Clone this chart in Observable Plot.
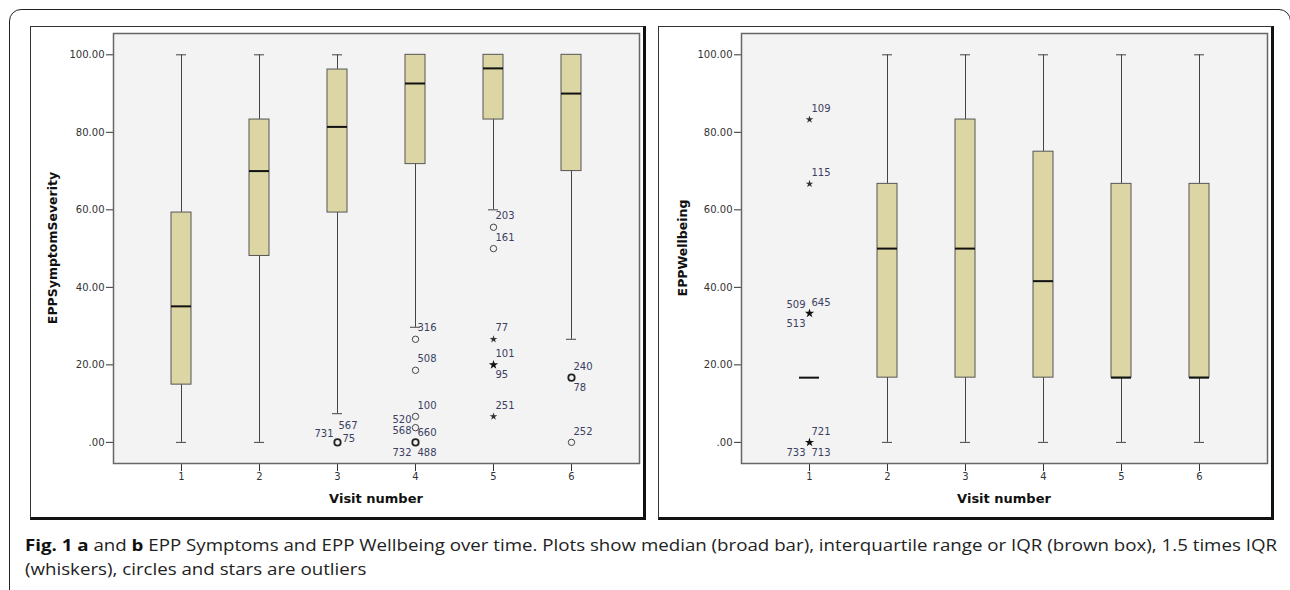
<!DOCTYPE html>
<html><head><meta charset="utf-8">
<script src="https://cdn.jsdelivr.net/npm/d3@7"></script>
<script src="https://cdn.jsdelivr.net/npm/@observablehq/plot@0.6"></script>
<style>
html,body{margin:0;padding:0;background:#fff;}
body{width:1290px;height:590px;position:relative;overflow:hidden;font-family:"DejaVu Sans",sans-serif;}
#frame{position:absolute;left:9px;top:9px;width:1282px;height:640px;box-sizing:border-box;border:1.5px solid #222;border-radius:12px;}
.panel{position:absolute;top:26px;height:494px;box-sizing:border-box;border-left:1.5px solid #333;border-top:1.5px solid #333;border-right:3px solid #111;border-bottom:3px solid #111;background:#fff;}
.chart{position:absolute;top:26px;}
.xt{position:absolute;font-weight:bold;font-size:13px;color:#111;transform:translate(-50%,-50%);white-space:nowrap;}
.yt{position:absolute;font-weight:bold;font-size:12.5px;color:#111;transform:translate(-50%,-50%) rotate(-90deg);white-space:nowrap;}
#cap{position:absolute;left:25px;top:533px;font-family:"Open Sans",sans-serif;font-size:15.5px;color:#222;line-height:24px;transform-origin:0 0;white-space:nowrap;}
#cap .l1{display:inline-block;}
#cap b{font-weight:bold;color:#111;}
</style>
</head><body>
<div id="frame"></div>
<div class="panel" style="left:30px;width:616px;"></div>
<div class="panel" style="left:658px;width:616px;"></div>
<div id="ca" class="chart" style="left:30px;"></div>
<div id="cb" class="chart" style="left:658px;"></div>
<div class="yt" style="left:52px;top:248px;">EPPSymptomSeverity</div>
<div class="yt" style="left:682px;top:248px;">EPPWellbeing</div>
<div class="xt" style="left:376px;top:498px;">Visit number</div>
<div class="xt" style="left:1004px;top:498px;">Visit number</div>
<div id="cap">
<span class="l1" id="l1"><b>Fig. 1 a</b> and <b>b</b> EPP Symptoms and EPP Wellbeing over time. Plots show median (broad bar), interquartile range or IQR (brown box), 1.5 times IQR</span>
<div>(whiskers), circles and stars are outliers</div>
</div>
<script>
// ---------- data ----------
const visits = [1, 2, 3, 4, 5, 6];
const yTicks = [0, 20, 40, 60, 80, 100];

// Panel a: EPPSymptomSeverity
const sevLow  = [0, 0, 7.4, 29.7, 60, 26.6];
const sevQ1   = [14.9, 48.1, 59.3, 71.8, 83.3, 70];
const sevMed  = [35.1, 70, 81.4, 92.6, 96.5, 90];
const sevQ3   = [59.3, 83.3, 96.2, 100, 100, 100];
const sevHigh = [100, 100, 100, 100, 100, 100];
const sevCircleVisit = [3, 4, 4, 4, 4, 4, 5, 5, 6, 6];
const sevCircleValue = [0, 26.6, 18.6, 6.7, 3.8, 0, 55.5, 50, 16.7, 0];
const sevCircleBold  = [true, false, false, false, false, true, false, false, true, false];
const sevStarVisit = [5, 5, 5];
const sevStarValue = [26.6, 20, 6.7];
const sevStarBold  = [false, true, false];
const sevLabelText  = ["731","567","75","316","508","100","520","568","660","732","488","203","161","77","101","95","251","240","78","252"];
const sevLabelVisit = [3,3,3,4,4,4,4,4,4,4,4,5,5,5,5,5,5,6,6,6];
const sevLabelValue = [0,0,0,26.6,18.6,6.7,6.7,3.8,3.8,0,0,55.5,50,26.6,20,20,6.7,16.7,16.7,0];
const sevLabelSide  = ["leftAbove","aboveHigh","right","above","above","above","left","left","rightLow","leftBelow","rightBelow","above","above","above","above","rightBelow","above","above","rightBelow","above"];

// Panel b: EPPWellbeing
const wbLow  = [null, 0, 0, 0, 0, 0];
const wbQ1   = [16.7, 16.7, 16.7, 16.7, 16.7, 16.7];
const wbMed  = [16.7, 50, 50, 41.6, 16.7, 16.7];
const wbQ3   = [16.7, 66.7, 83.3, 75, 66.7, 66.7];
const wbHigh = [null, 100, 100, 100, 100, 100];
const wbCircleVisit = [];
const wbCircleValue = [];
const wbCircleBold  = [];
const wbStarVisit = [1, 1, 1, 1];
const wbStarValue = [83.3, 66.7, 33.3, 0];
const wbStarBold  = [false, false, true, true];
const wbLabelText  = ["109","115","509","645","513","721","733","713"];
const wbLabelVisit = [1,1,1,1,1,1,1,1];
const wbLabelValue = [83.3,66.7,33.3,33.3,33.3,0,0,0];
const wbLabelSide  = ["above","above","leftAbove","above","leftBelow","above","leftBelow","rightBelow"];

// ---------- drawing ----------
const sides = {
  above:      {textAnchor: "start", dx: 2,  dy: -11},
  aboveHigh:  {textAnchor: "start", dx: 1,  dy: -17},
  right:      {textAnchor: "start", dx: 5,  dy: -4},
  rightLow:   {textAnchor: "start", dx: 2,  dy: 5},
  rightBelow: {textAnchor: "start", dx: 2,  dy: 10},
  left:       {textAnchor: "end",   dx: -4, dy: 3},
  leftAbove:  {textAnchor: "end",   dx: -4, dy: -9},
  leftBelow:  {textAnchor: "end",   dx: -4, dy: 10}
};

function panel(low, q1, med, q3, high, cV, cY, cB, sV, sY, sB, lT, lV, lY, lS) {
  const rows = visits.map((v, i) => ({visit: v, low: low[i], q1: q1[i], med: med[i], q3: q3[i], high: high[i]}));
  const boxes = rows.filter(d => d.q3 > d.q1);
  const lowW = rows.filter(d => d.low != null && d.low < d.q1);
  const highW = rows.filter(d => d.high != null && d.high > d.q3);
  const circles = cV.map((v, i) => ({visit: v, value: cY[i], bold: cB[i]}));
  const stars = sV.map((v, i) => ({visit: v, value: sY[i], bold: sB[i]}));
  const labels = lT.map((t, i) => ({text: t, visit: lV[i], value: lY[i], side: lS[i]}));
  const labelMarks = Object.entries(sides).map(([k, o]) =>
    Plot.text(labels.filter(d => d.side === k), {x: "visit", y: "value", text: "text", fill: "#3b4062", fontSize: 10, ...o}));
  return Plot.plot({
    width: 616, height: 493,
    marginLeft: 83, marginRight: 7, marginTop: 7, marginBottom: 56,
    style: {fontFamily: "DejaVu Sans", fontSize: "10px", color: "#333", background: "transparent", overflow: "visible"},
    x: {type: "band", domain: visits, paddingInner: 0.747, paddingOuter: 0.703, label: null, tickSize: 8, tickPadding: 1},
    y: {domain: [-5.45, 105.5], ticks: yTicks, label: null, tickSize: 7, tickPadding: 2,
        tickFormat: d => d === 0 ? ".00" : d3.format(".2f")(d)},
    marks: [
      Plot.frame({fill: "#f3f3f3", stroke: "#666", strokeWidth: 1.5}),
      Plot.ruleX(lowW, {x: "visit", y1: "low", y2: "q1", stroke: "#444", strokeWidth: 1}),
      Plot.ruleX(highW, {x: "visit", y1: "q3", y2: "high", stroke: "#444", strokeWidth: 1}),
      Plot.tickY(lowW, {x: "visit", y: "low", stroke: "#444", strokeWidth: 1, insetLeft: 5, insetRight: 5}),
      Plot.tickY(highW, {x: "visit", y: "high", stroke: "#444", strokeWidth: 1, insetLeft: 5, insetRight: 5}),
      Plot.barY(boxes, {x: "visit", y1: "q1", y2: "q3", fill: "#dcd6a4", stroke: "#555", strokeWidth: 1}),
      Plot.tickY(rows, {x: "visit", y: "med", stroke: "#111", strokeWidth: 2}),
      Plot.dot(circles.filter(d => !d.bold), {x: "visit", y: "value", r: 3.2, stroke: "#444", fill: "none", strokeWidth: 1}),
      Plot.dot(circles.filter(d => d.bold), {x: "visit", y: "value", r: 3.2, stroke: "#222", fill: "none", strokeWidth: 1.8}),
      Plot.dot(stars.filter(d => !d.bold), {x: "visit", y: "value", symbol: "star", r: 2.4, fill: "#333", stroke: "none"}),
      Plot.dot(stars.filter(d => d.bold), {x: "visit", y: "value", symbol: "star", r: 2.9, fill: "#111", stroke: "none"}),
      ...labelMarks
    ]
  });
}

document.getElementById("ca").append(panel(sevLow, sevQ1, sevMed, sevQ3, sevHigh,
  sevCircleVisit, sevCircleValue, sevCircleBold, sevStarVisit, sevStarValue, sevStarBold,
  sevLabelText, sevLabelVisit, sevLabelValue, sevLabelSide));
document.getElementById("cb").append(panel(wbLow, wbQ1, wbMed, wbQ3, wbHigh,
  wbCircleVisit, wbCircleValue, wbCircleBold, wbStarVisit, wbStarValue, wbStarBold,
  wbLabelText, wbLabelVisit, wbLabelValue, wbLabelSide));

// stretch caption horizontally so its first line spans the figure width
const w1 = document.getElementById("l1").getBoundingClientRect().width;
document.getElementById("cap").style.transform = `scaleX(${1252 / w1})`;
</script>
</body></html>
